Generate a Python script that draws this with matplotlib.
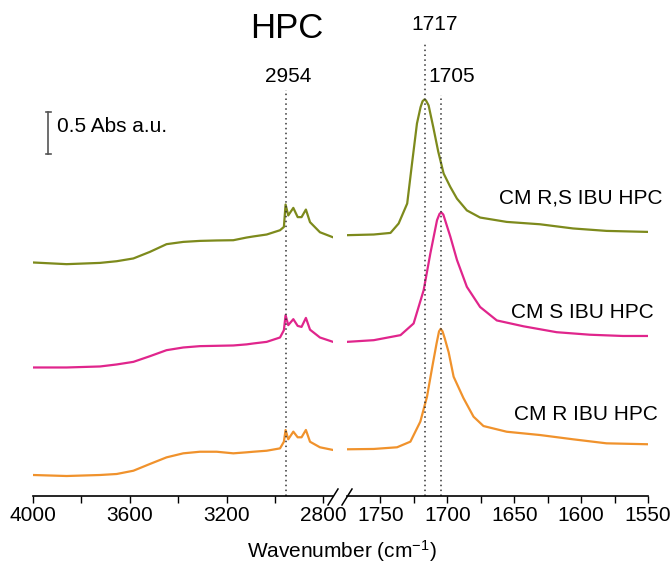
#!/usr/bin/env python3
"""FTIR spectra of CM IBU HPC samples with a broken wavenumber axis."""

import matplotlib
matplotlib.use("Agg")
import matplotlib.pyplot as plt
from matplotlib.lines import Line2D

plt.rcParams["font.family"] = ["Liberation Sans", "DejaVu Sans"]
plt.rcParams["mathtext.default"] = "regular"

W, H = 671, 570

# high wavenumber window (C-H / O-H region)
wn_high = [4000, 3861, 3723, 3654, 3585, 3517, 3448, 3379, 3310, 3241, 3172,
           3117, 3089, 3034, 2979, 2963, 2956, 2945, 2924, 2906, 2890, 2872,
           2855, 2814, 2760]
rs_high = [0.00, -0.02, -0.005, 0.015, 0.048, 0.126, 0.218, 0.245, 0.257, 0.262,
           0.265, 0.297, 0.31, 0.333, 0.384, 0.423, 0.69, 0.56, 0.65, 0.54,
           0.54, 0.63, 0.48, 0.36, 0.30]
s_high = [0.00, 0.00, 0.012, 0.036, 0.067, 0.134, 0.206, 0.238, 0.254, 0.258,
          0.262, 0.275, 0.286, 0.305, 0.357, 0.444, 0.623, 0.504, 0.575, 0.495,
          0.483, 0.59, 0.45, 0.357, 0.305]
r_high = [0.00, -0.012, 0.00, 0.012, 0.051, 0.131, 0.21, 0.258, 0.277, 0.277,
          0.258, 0.27, 0.277, 0.289, 0.317, 0.396, 0.536, 0.425, 0.516, 0.449,
          0.449, 0.536, 0.396, 0.33, 0.298]

# carbonyl window
wn_rs_low = [1775, 1755, 1742.5, 1736.4, 1730, 1726.4, 1722.7, 1720, 1718.5,
             1717.2, 1716, 1714, 1710.5, 1706.8, 1702.8, 1697.8, 1692.8, 1685.4,
             1675.5, 1655.6, 1630.8, 1606, 1581, 1550]
rs_low = [0.325, 0.333, 0.352, 0.464, 0.702, 1.178, 1.655, 1.85, 1.92, 1.94,
          1.93, 1.87, 1.61, 1.32, 1.06, 0.90, 0.76, 0.62, 0.535, 0.483, 0.455,
          0.405, 0.376, 0.364]
wn_s_low = [1775, 1755, 1735, 1725.2, 1717.7, 1712.7, 1707.7, 1705.8, 1704.5,
            1703, 1701.6, 1697.8, 1692.8, 1685.4, 1675.5, 1663, 1643, 1618.3,
            1593.5, 1568.7, 1550]
s_low = [0.305, 0.325, 0.385, 0.524, 0.92, 1.357, 1.754, 1.83, 1.846, 1.82,
         1.75, 1.56, 1.28, 0.96, 0.72, 0.56, 0.49, 0.42, 0.39, 0.375, 0.375]
wn_r_low = [1775, 1755, 1737.6, 1727.6, 1720.2, 1715.2, 1711, 1708, 1706.2,
            1705, 1703.6, 1702, 1699, 1695.3, 1688, 1680.4, 1673, 1655.6,
            1630.8, 1606, 1581, 1550]
r_low = [0.306, 0.31, 0.33, 0.397, 0.635, 0.932, 1.31, 1.57, 1.71, 1.74, 1.71,
         1.63, 1.46, 1.17, 0.917, 0.694, 0.583, 0.515, 0.476, 0.425, 0.377,
         0.366]

labels = ["CM R,S IBU HPC", "CM S IBU HPC", "CM R IBU HPC"]
offsets = [2.78, 1.53, 0.25]
colors = ["#7d8a1c", "#e0258c", "#f0922c"]

high_ticks = [4000, 3600, 3200, 2800]
low_ticks = [1750, 1700, 1650, 1600, 1550]


def fx(px):
    return px / W


def fy(py):
    return 1 - py / H


def main():
    fig = plt.figure(figsize=(W / 100, H / 100), dpi=100, facecolor="white")
    ax1 = fig.add_axes([fx(33), fy(496), fx(333 - 33), 496 / H])
    ax2 = fig.add_axes([fx(347), fy(496), fx(648 - 347), 496 / H])

    series_high = [rs_high, s_high, r_high]
    series_low = [(wn_rs_low, rs_low), (wn_s_low, s_low), (wn_r_low, r_low)]
    for hi, (wl, lo), off, c in zip(series_high, series_low, offsets, colors):
        ax1.plot(wn_high, [v + off for v in hi], color=c, lw=1.6)
        ax2.plot(wl, [v + off for v in lo], color=c, lw=1.6)

    ymax = 496 / 84
    for ax in (ax1, ax2):
        ax.set_ylim(0, ymax)
        ax.set_facecolor("none")
        for s in ("top", "left", "right"):
            ax.spines[s].set_visible(False)
        ax.spines["bottom"].set_linewidth(1.2)
        ax.set_yticks([])
        ax.tick_params(axis="x", which="both", direction="out", length=5,
                       width=1, labelsize=15, pad=2)

    ax1.set_xlim(4000, 2760)
    ax1.set_xticks(high_ticks)
    ax1.set_xticks([3800, 3400, 3000], minor=True)
    ax2.set_xlim(1775, 1550)
    ax2.set_xticks(low_ticks)
    ax2.set_xticks([1725, 1675, 1625, 1575], minor=True)

    # dotted markers
    dot = dict(color="#333333", lw=1.1, ls=(0, (1, 2.2)))
    ax1.plot([2954, 2954], [0, (496 - 90) / 84], **dot)
    ax2.plot([1717, 1717], [0, (496 - 43) / 84], **dot)
    ax2.plot([1705, 1705], [0, (496 - 95) / 84], **dot)

    # axis break
    for x0 in (328, 342):
        fig.add_artist(Line2D([fx(x0), fx(x0 + 10)], [fy(505), fy(489)],
                              color="black", lw=1.1))

    # scale bar
    fig.add_artist(Line2D([fx(48), fx(48)], [fy(112), fy(154)], color="#555555", lw=1.2))
    for yb in (112, 154):
        fig.add_artist(Line2D([fx(45.5), fx(50.5)], [fy(yb), fy(yb)], color="#555555", lw=1.2))
    fig.text(fx(57), fy(126), "0.5 Abs a.u.", fontsize=15, va="center", ha="left")

    fig.text(fx(287), fy(28), "HPC", fontsize=25, ha="center", va="center")
    fig.text(fx(435), fy(25), "1717", fontsize=15, ha="center", va="center")
    fig.text(fx(288), fy(76), "2954", fontsize=15, ha="center", va="center")
    fig.text(fx(452), fy(76), "1705", fontsize=15, ha="center", va="center")

    for lab, xc, yc in zip(labels, [581, 582, 586], [198, 312, 415]):
        fig.text(fx(xc), fy(yc), lab, fontsize=15, ha="center", va="center")

    fig.text(fx(342), fy(551), "Wavenumber (cm$^{-1}$)", fontsize=15,
             ha="center", va="center")

    fig.savefig("out.png", dpi=100, facecolor="white")


if __name__ == "__main__":
    main()
